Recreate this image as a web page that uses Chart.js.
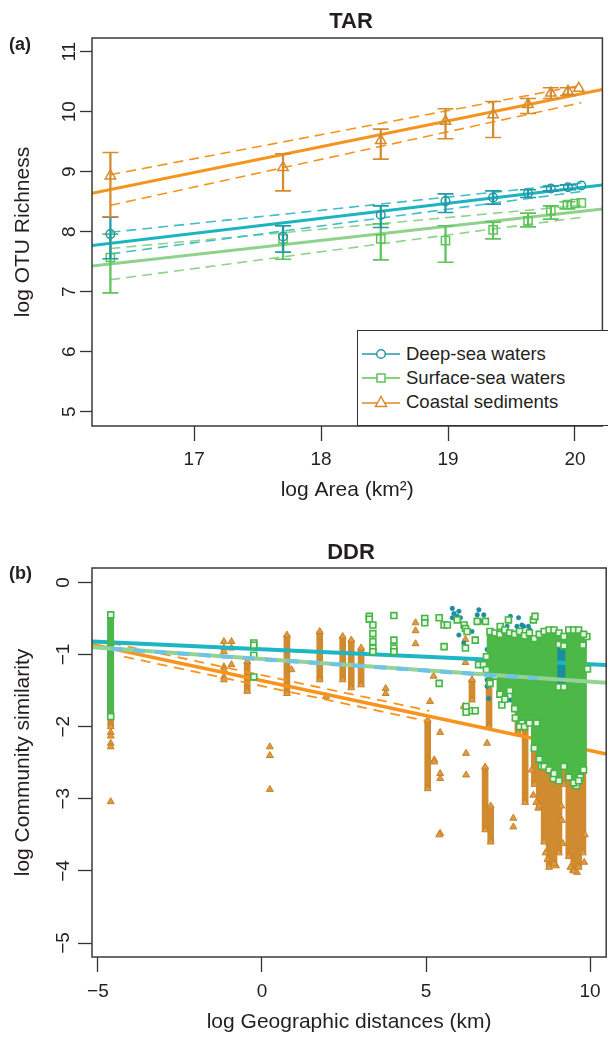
<!DOCTYPE html>
<html>
<head>
<meta charset="utf-8">
<script src="https://cdn.jsdelivr.net/npm/chart.js@4.4.1/dist/chart.umd.min.js"></script>
<style>
html,body{margin:0;padding:0;background:#fff;width:608px;height:1037px;overflow:hidden;}
body{position:relative;font-family:"Liberation Sans",Arial,Helvetica,sans-serif;color:#231f20;}
.cw{position:absolute;left:0;width:612px;}
#wa{top:0;height:520px;}
#wb{top:520px;height:517px;}
.ttl{position:absolute;left:92px;width:518px;text-align:center;font-weight:bold;font-size:22px;line-height:24px;}
.tag{position:absolute;left:9px;font-weight:bold;font-size:18px;line-height:20px;}
#legend{position:absolute;left:357px;top:330px;width:270px;height:96px;border:1.3px solid #333;background:#fff;padding-top:11px;box-sizing:border-box;}
.row{display:flex;align-items:center;height:24px;font-size:18.5px;}
.row svg{margin-left:4px;margin-right:4px;flex:none;}
</style>
</head>
<body>
<div class="cw" id="wa"><canvas id="ca" width="612" height="520"></canvas></div>
<div class="cw" id="wb"><canvas id="cb" width="612" height="517"></canvas></div>
<div class="ttl" style="top:9px">TAR</div>
<div class="tag" style="top:34px">(a)</div>
<div class="ttl" style="top:540px">DDR</div>
<div class="tag" style="top:563px">(b)</div>
<div id="legend">
  <div class="row"><svg width="40" height="14"><line x1="0" y1="7" x2="38" y2="7" stroke="#2499a6" stroke-width="1.5"/><circle cx="19" cy="7" r="4.3" fill="#fff" stroke="#2499a6" stroke-width="1.5"/></svg><span>Deep-sea waters</span></div>
  <div class="row"><svg width="40" height="14"><line x1="0" y1="7" x2="38" y2="7" stroke="#5ec35b" stroke-width="1.5"/><rect x="15" y="3" width="8" height="8" fill="#fff" stroke="#5ec35b" stroke-width="1.5"/></svg><span>Surface-sea waters</span></div>
  <div class="row"><svg width="40" height="14"><line x1="0" y1="8" x2="38" y2="8" stroke="#d68b2e" stroke-width="1.5"/><polygon points="19,1.5 24.5,11.5 13.5,11.5" fill="#fff" stroke="#d68b2e" stroke-width="1.5"/></svg><span>Coastal sediments</span></div>
</div>
<script>
// ---------------- Panel (a) TAR data ----------------
const tarXTicks = [17, 18, 19, 20];
const tarYTicks = [5, 6, 7, 8, 9, 10, 11];

const tarDeepX  = [16.34, 17.70, 18.47, 18.98, 19.355, 19.63, 19.81, 19.945, 20.05];
const tarDeepY  = [7.96, 7.92, 8.28, 8.51, 8.57, 8.64, 8.72, 8.74, 8.77];
const tarDeepLo = [7.55, 7.66, 8.07, 8.32, 8.46, 8.57, 8.68, 8.70, null];
const tarDeepHi = [8.24, 8.10, 8.43, 8.63, 8.68, 8.70, 8.76, 8.78, null];

const tarSurfX  = [16.34, 17.70, 18.47, 18.98, 19.355, 19.63, 19.81, 19.94, 20.00, 20.05];
const tarSurfY  = [7.57, 7.88, 7.88, 7.85, 8.03, 8.18, 8.35, 8.45, 8.47, 8.48];
const tarSurfLo = [6.98, 7.54, 7.53, 7.49, 7.88, 8.08, 8.21, 8.38, null, null];
const tarSurfHi = [7.96, 8.10, 8.13, 8.10, 8.16, 8.31, 8.43, 8.50, null, null];

const tarCoastX  = [16.34, 17.70, 18.47, 18.98, 19.355, 19.63, 19.81, 19.945, 20.03];
const tarCoastY  = [8.93, 9.07, 9.52, 9.84, 9.95, 10.12, 10.31, 10.34, 10.39];
const tarCoastLo = [8.25, 8.68, 9.21, 9.55, 9.57, 9.97, 10.22, 10.27, null];
const tarCoastHi = [9.32, 9.30, 9.71, 10.05, 10.17, 10.22, 10.40, 10.40, null];

const tarFitX      = [16.195, 20.216];
const tarDeepFit   = [7.77, 8.78];
const tarSurfFit   = [7.43, 8.38];
const tarCoastFit  = [8.64, 10.37];
const tarBandX     = [16.34, 20.05];
const tarDeepUp    = [7.99, 8.81];
const tarDeepLow   = [7.63, 8.67];
const tarSurfUp    = [7.72, 8.44];
const tarSurfLow   = [7.20, 8.24];
const tarCoastUp   = [8.95, 10.44];
const tarCoastLow  = [8.44, 10.15];

// ---------------- Panel (b) DDR data ----------------
const ddrXTicks = [-5, 0, 5, 10];
const ddrYTicks = [0, -1, -2, -3, -4, -5];

const ddrFitX       = [-5.18, 10.49];
const ddrDeepFit    = [-0.82, -1.145];
const ddrSurfFit    = [-0.90, -1.39];
const ddrCoastFit   = [-0.86, -2.38];
const ddrSurfBandX  = [-4.6, 8.4];
const ddrSurfBand   = [-0.92, -1.33];
const ddrCoastUpX   = [-4.6, 5.1];
const ddrCoastUp    = [-0.84, -1.78];
const ddrCoastLowX  = [-4.2, 5.1];
const ddrCoastLow   = [-1.03, -1.93];

// vertical runs of overlapping markers: [x, low, high]
const coastColsB = [
  [-4.61, -2.00, -0.85], [-0.45, -1.51, -1.10], [0.76, -1.54, -0.73], [1.76, -1.35, -0.68],
  [2.46, -1.35, -0.75], [2.72, -1.46, -0.80], [3.02, -1.42, -0.91], [5.05, -2.86, -1.91],
  [6.40, -1.63, -1.35], [6.80, -3.43, -2.56], [6.92, -2.00, -1.35], [6.97, -3.60, -3.10],
  [7.80, -2.09, -1.77], [8.02, -3.05, -1.81],
  [8.30, -2.80, -1.77], [8.45, -3.10, -1.60], [8.60, -3.60, -0.98], [8.75, -3.95, -1.50],
  [8.90, -3.90, -1.80], [9.05, -3.75, -2.00], [9.20, -2.80, -1.90], [9.35, -3.80, -1.70],
  [9.50, -4.00, -1.50], [9.65, -3.95, -1.60], [9.78, -3.75, -1.80]
];
const coastPtsB = [
  [-4.61,-2.08],[-4.61,-2.13],[-4.61,-2.23],[-4.61,-2.28],[-4.61,-3.04],
  [-1.16,-0.82],[-1.16,-0.91],[-1.16,-0.96],[-1.16,-1.17],[-1.16,-1.21],[-1.16,-1.31],[-1.16,-1.35],
  [-0.93,-0.82],[-0.93,-0.91],[-0.93,-1.14],
  [0.24,-2.28],[0.24,-2.40],[0.24,-2.87],
  [0.90,-1.21],[1.95,-1.58],[3.77,-1.47],[3.77,-1.54],
  [4.68,-0.56],[4.68,-0.67],[4.68,-0.85],
  [5.12,-1.65],[5.23,-1.30],[5.25,-2.46],[5.25,-2.49],[5.43,-2.08],[5.43,-2.65],[5.43,-2.72],[5.43,-3.48],[5.40,-3.50],
  [6.15,-1.72],[6.20,-0.79],[6.20,-1.11],[6.22,-2.37],[6.22,-2.67],
  [6.86,-2.23],[7.66,-3.27],[7.66,-3.39],[8.42,-3.13],[9.17,-3.62],[9.48,-3.99],
  [8.27,-2.95],[8.36,-3.05],[8.64,-3.75],[8.70,-3.84],[8.96,-3.93],[9.12,-3.10],
  [9.40,-3.95],[9.60,-4.02],[9.82,-3.88],[9.84,-3.50],[8.22,-2.60],[9.14,-3.30]
];
const surfColsB = [
  [-4.61, -1.86, -0.45],
  [6.95, -1.40, -0.68], [7.10, -1.30, -0.70], [7.25, -1.55, -0.72], [7.40, -1.62, -0.66],
  [7.55, -1.50, -0.70], [7.70, -1.75, -0.72], [7.85, -2.00, -0.68], [8.00, -2.00, -0.74],
  [8.15, -1.95, -0.70], [8.30, -2.30, -0.78], [8.45, -2.45, -0.72], [8.60, -2.55, -0.68],
  [8.75, -2.60, -0.66], [8.90, -2.65, -0.66], [9.05, -2.75, -1.45], [9.05, -0.86, -0.70],
  [9.20, -2.55, -1.45], [9.20, -0.88, -0.75], [9.35, -2.70, -0.66], [9.50, -2.78, -0.66],
  [9.65, -2.75, -0.66], [9.80, -2.60, -0.72]
];
const surfPtsB = [
  [-0.25,-0.84],[-0.25,-0.87],[-0.25,-1.01],[-0.25,-1.31],
  [3.27,-0.47],[3.27,-0.51],[3.38,-0.59],[3.38,-0.71],[3.38,-0.82],[3.38,-0.91],[3.38,-0.96],
  [4.02,-0.46],[4.02,-0.80],[4.02,-0.91],[4.02,-0.96],
  [4.96,-0.50],[4.96,-0.56],[5.40,-0.49],[5.55,-0.59],[5.65,-0.59],[5.55,-0.89],[5.40,-1.40],
  [5.95,-0.52],[6.20,-0.91],[6.16,-0.59],[6.20,-0.64],[6.25,-0.68],[6.50,-0.80],[6.56,-0.54],[6.81,-0.54],
  [6.40,-1.78],[6.50,-1.78],[6.22,-1.72],[6.22,-1.80],[6.60,-1.14],[6.75,-1.14],[6.84,-1.03],[6.84,-1.21],
  [7.31,-1.70],[7.26,-0.61],[7.51,-0.52],[8.27,-0.52],[8.32,-0.47],
  [7.72,-1.88],[7.92,-1.95],[8.37,-1.95],[9.78,-0.87],
  [8.88,-2.72],[9.58,-2.82],[9.70,-2.70],[8.52,-2.55],[9.92,-1.20],[9.90,-0.75]
];
const deepColsB = [[-4.61, -1.90, -0.45], [9.08, -1.44, -0.88], [9.20, -1.40, -0.90]];
const deepPtsB = [
  [-4.61,-0.45],
  [5.80,-0.36],[5.85,-0.43],[6.00,-0.40],[5.95,-0.47],[6.05,-0.49],[5.80,-0.49],
  [6.61,-0.38],[6.56,-0.45],[6.76,-0.45],[6.66,-0.54],
  [6.00,-0.73],[6.20,-0.66],[6.40,-0.68],[6.15,-0.84],[6.86,-0.93],[6.96,-0.70],
  [7.57,-0.47],[7.82,-0.49],[7.77,-0.61],[7.47,-0.61],[7.92,-0.59],[8.12,-0.61],[7.42,-0.77],[7.67,-0.80],
  [6.86,-1.35],[6.86,-1.44],[7.26,-1.47],[6.91,-1.61],[7.36,-1.58],[7.57,-1.63],[7.82,-1.61],[7.47,-1.49],
  [7.06,-1.21],[7.77,-1.19],[8.37,-1.12],[8.57,-1.35],[8.78,-1.44],[8.93,-1.26],
  [7.97,-0.61],[8.17,-0.66],[8.32,-0.52],[8.37,-0.77],[8.78,-1.21],[8.88,-1.49],[8.98,-1.68]
];

// ---------------- helpers ----------------
const FAM = '"Liberation Sans", Arial, Helvetica, sans-serif';
const TXT = '#231f20';
const minus = v => String(v).replace('-', '\u2212');
const pts = (xs, ys) => xs.map((x, i) => ({x, y: ys[i]}));
const pairs = arr => arr.map(p => ({x: p[0], y: p[1]}));
const cols = arr => arr.map(c => ({x: c[0], y: [c[1], c[2]]}));
const colEnds = arr => { const o = []; arr.forEach(c => o.push({x: c[0], y: c[1]}, {x: c[0], y: c[2]})); return o; };
const stems = (xs, lo, hi) => xs.map((x, i) => lo[i] == null ? null : {x, y: [lo[i], hi[i]]}).filter(Boolean);
const caps = (xs, lo, hi) => { const o = []; xs.forEach((x, i) => { if (lo[i] != null) o.push({x, y: lo[i]}, {x, y: hi[i]}); }); return o; };

const lineDS = (xs, ys, color, width, dash, order) => ({type: 'scatter', data: pts(xs, ys), showLine: true,
  borderColor: color, borderWidth: width, borderDash: dash || [], pointRadius: 0, fill: false, order});
const markDS = (data, style, r, color, bg, bw, order) => ({type: 'scatter', data, showLine: false,
  pointStyle: style, pointRadius: r, pointHoverRadius: r, pointBorderColor: color, pointBackgroundColor: bg,
  pointBorderWidth: bw, order});
const barDS = (data, color, w, order) => ({type: 'bar', data, backgroundColor: color, barThickness: w,
  grouped: false, order});

function rPlugin(labelX) {
  return {
    id: 'rframe',
    afterDraw(chart) {
      const {ctx, chartArea: a, scales} = chart;
      ctx.save();
      ctx.strokeStyle = '#3a3a3a';
      ctx.lineWidth = 1.5;
      ctx.strokeRect(a.left, a.top, a.right - a.left, a.bottom - a.top);
      const ys = scales.y;
      ctx.fillStyle = TXT;
      ctx.font = '19px ' + FAM;
      ctx.textAlign = 'center';
      ctx.textBaseline = 'middle';
      ys.ticks.forEach(t => {
        const py = ys.getPixelForValue(t.value);
        ctx.save();
        ctx.translate(labelX, py);
        ctx.rotate(-Math.PI / 2);
        ctx.fillText(minus(t.value), 0, 0);
        ctx.restore();
      });
      ctx.restore();
    }
  };
}

function axes(o) {
  return {
    x: {type: 'linear', min: o.xmin, max: o.xmax, offset: false,
      afterBuildTicks: s => { s.ticks = o.xticks.map(v => ({value: v})); },
      afterFit: s => { s.height = o.xh; },
      grid: {display: true, offset: false, drawOnChartArea: false, drawTicks: true, tickLength: 15, tickWidth: 1.3, tickColor: '#333'},
      border: {display: false},
      ticks: {padding: o.xpad, color: TXT, font: {size: 19, family: FAM}, callback: v => minus(v), maxRotation: 0},
      title: {display: true, text: o.xtitle, color: TXT, font: {size: 21, family: FAM}, padding: {top: 0, bottom: o.xtpad}}
    },
    y: {type: 'linear', min: o.ymin, max: o.ymax, offset: false,
      afterBuildTicks: s => { s.ticks = o.yticks.map(v => ({value: v})); },
      afterFit: s => { s.width = 92; },
      grid: {display: true, offset: false, drawOnChartArea: false, drawTicks: true, tickLength: o.ytl, tickWidth: 1.3, tickColor: '#333'},
      border: {display: false},
      ticks: {display: false},
      title: {display: true, text: o.ytitle, color: TXT, font: {size: 21, family: FAM}, padding: {top: 11, bottom: 0}}
    }
  };
}

const common = {
  responsive: false, animation: false, devicePixelRatio: 1, events: [],
  plugins: {legend: {display: false}, tooltip: {enabled: false}, title: {display: false}}
};

// ---------------- Chart (a) ----------------
const cDeep = '#2499a6', cDeepL = '#1db4c1', cDeepD = '#3fbecb';
const cSurf = '#5ec35b', cSurfL = '#8fd38b';
const cCoast = '#d68b2e', cCoastL = '#f7941d';

new Chart(document.getElementById('ca'), {
  type: 'scatter',
  data: {datasets: [
    lineDS(tarFitX, tarCoastFit, cCoastL, 3, null, 20),
    lineDS(tarBandX, tarCoastUp, cCoastL, 1.6, [10, 6], 20),
    lineDS(tarBandX, tarCoastLow, cCoastL, 1.6, [10, 6], 20),
    lineDS(tarFitX, tarDeepFit, cDeepL, 3, null, 20),
    lineDS(tarBandX, tarDeepUp, cDeepD, 1.6, [10, 6], 20),
    lineDS(tarBandX, tarDeepLow, cDeepD, 1.6, [10, 6], 20),
    lineDS(tarFitX, tarSurfFit, cSurfL, 3, null, 20),
    lineDS(tarBandX, tarSurfUp, cSurfL, 1.6, [10, 6], 20),
    lineDS(tarBandX, tarSurfLow, cSurfL, 1.6, [10, 6], 20),
    barDS(stems(tarSurfX, tarSurfLo, tarSurfHi), cSurf, 1.6, 10),
    markDS(caps(tarSurfX, tarSurfLo, tarSurfHi), 'line', 8, cSurf, cSurf, 1.6, 9),
    markDS(pts(tarSurfX, tarSurfY), 'rect', 5.8, cSurf, 'rgba(255,255,255,0)', 1.5, 8),
    barDS(stems(tarDeepX, tarDeepLo, tarDeepHi), cDeep, 1.6, 7),
    markDS(caps(tarDeepX, tarDeepLo, tarDeepHi), 'line', 8, cDeep, cDeep, 1.6, 6),
    markDS(pts(tarDeepX, tarDeepY), 'circle', 4.3, cDeep, 'rgba(255,255,255,0)', 1.5, 5),
    barDS(stems(tarCoastX, tarCoastLo, tarCoastHi), cCoast, 1.6, 4),
    markDS(caps(tarCoastX, tarCoastLo, tarCoastHi), 'line', 8, cCoast, cCoast, 1.6, 3),
    markDS(pts(tarCoastX, tarCoastY), 'triangle', 6, cCoast, 'rgba(255,255,255,0)', 1.5, 2)
  ]},
  options: Object.assign({}, common, {
    layout: {padding: {left: 0, top: 38, right: 2, bottom: 0}},
    scales: axes({xmin: 16.195, xmax: 20.216, xticks: tarXTicks, xh: 94, xpad: 7, xtpad: 17,
      xtitle: 'log Area (km\u00b2)', ymin: 4.762, ymax: 11.228, yticks: tarYTicks, ytl: 12,
      ytitle: 'log OTU Richness'})
  }),
  plugins: [rPlugin(70)]
});

// ---------------- Chart (b) ----------------
const bCoast = '#d08a30', bCoastPt = '#dd9a48', bCoastBd = '#c98223';
const bSurf = '#4cb848';
const bDeep = '#1a8e9e';

new Chart(document.getElementById('cb'), {
  type: 'scatter',
  data: {datasets: [
    barDS(cols(coastColsB), bCoast, 6, 30),
    markDS(colEnds(coastColsB), 'triangle', 4, bCoastBd, bCoastPt, 1, 29),
    markDS(pairs(coastPtsB), 'triangle', 4, bCoastBd, bCoastPt, 1, 29),
    lineDS(ddrCoastUpX, ddrCoastUp, cCoastL, 1.8, [10, 7], 28),
    lineDS(ddrCoastLowX, ddrCoastLow, cCoastL, 1.8, [10, 7], 28),
    lineDS(ddrFitX, ddrCoastFit, cCoastL, 3.5, null, 27),
    barDS(cols(deepColsB), bDeep, 6, 26),
    markDS(pairs(deepPtsB), 'circle', 2.3, bDeep, bDeep, 0.5, 25),
    lineDS(ddrFitX, ddrDeepFit, '#1db6c4', 4, null, 24),
    barDS(cols(surfColsB), bSurf, 6, 23),
    markDS(colEnds(surfColsB), 'rect', 4.2, '#45b545', '#eaf7e6', 1.6, 22),
    markDS(pairs(surfPtsB), 'rect', 4.2, '#45b545', '#eaf7e6', 1.6, 22),
    lineDS(ddrFitX, ddrSurfFit, '#93d496', 4, null, 21),
    lineDS(ddrSurfBandX, ddrSurfBand, '#6ec3e6', 4, [12, 10], 20)
  ]},
  options: Object.assign({}, common, {
    layout: {padding: {left: 0, top: 48, right: 2, bottom: 0}},
    scales: axes({xmin: -5.18, xmax: 10.49, xticks: ddrXTicks, xh: 80, xpad: 8, xtpad: 2,
      xtitle: 'log Geographic distances (km)', ymin: -5.194, ymax: 0.2, yticks: ddrYTicks, ytl: 14,
      ytitle: 'log Community similarity'})
  }),
  plugins: [rPlugin(64)]
});
</script>
</body>
</html>
